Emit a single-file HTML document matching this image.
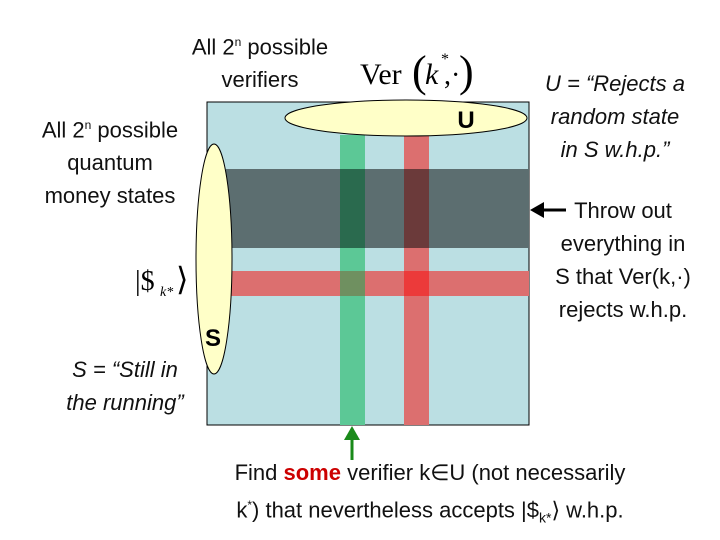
<!DOCTYPE html>
<html><head><meta charset="utf-8"><style>
body{margin:0;width:720px;height:540px;background:#fff;overflow:hidden;position:relative;font-family:"Liberation Sans",sans-serif}
.t{position:absolute;text-align:center;font-size:22px;line-height:33px;color:#111}
i{font-style:italic}
</style></head><body>
<svg width="720" height="540" style="position:absolute;left:0;top:0">
<rect x="207" y="102" width="322" height="323" fill="#bbdfe3" stroke="#000" stroke-width="1"/>
<rect x="226" y="169" width="303" height="79" fill="#5c6e70"/>
<rect x="231" y="271" width="298" height="25" fill="#dc6f6f"/>
<rect x="340" y="135" width="25" height="290" fill="#5cc896" opacity="1"/>
<rect x="340" y="169" width="25" height="79" fill="#2a6a4e"/>
<rect x="340" y="271" width="25" height="25" fill="#6f9060"/>
<rect x="404" y="135" width="25" height="290" fill="#dc6f6f"/>
<rect x="404" y="169" width="25" height="79" fill="#6b3a3a"/>
<rect x="404" y="271" width="25" height="25" fill="#ec3a3a"/>
<ellipse cx="406" cy="118" rx="121" ry="18" fill="#ffffc8" stroke="#000" stroke-width="1"/>
<ellipse cx="214" cy="259" rx="18" ry="115" fill="#ffffc8" stroke="#000" stroke-width="1"/>
<text x="466" y="128" font-size="24" font-weight="bold" text-anchor="middle" font-family="Liberation Sans">U</text>
<text x="213" y="346" font-size="24" font-weight="bold" text-anchor="middle" font-family="Liberation Sans">S</text>
<line x1="352" y1="460" x2="352" y2="436" stroke="#1a8a1a" stroke-width="3"/>
<polygon points="344,440 352,426 360,440" fill="#1a8a1a"/>
<line x1="566" y1="210" x2="540" y2="210" stroke="#000" stroke-width="3"/>
<polygon points="530,210 544,202 544,218" fill="#000"/>
<text x="360" y="84" font-size="30" font-family="Liberation Serif">Ver</text>
<text x="412" y="86" font-size="44" font-family="Liberation Serif" font-weight="300">(</text>
<text x="425" y="84" font-size="30" font-style="italic" font-family="Liberation Serif">k</text>
<text x="441" y="64" font-size="16" font-family="Liberation Serif">*</text>
<text x="444" y="84" font-size="28" font-family="Liberation Serif">,·</text>
<text x="459" y="86" font-size="44" font-family="Liberation Serif">)</text>
<text x="135" y="290" font-size="28" font-family="Liberation Serif">|$</text>
<text x="160" y="296" font-size="14" font-style="italic" font-family="Liberation Serif">k*</text>
<text x="176" y="290" font-size="32" font-family="Liberation Serif">⟩</text>
</svg>
<div class="t" style="left:170px;top:26px;width:180px">All 2<sup style="font-size:12px">n</sup> possible<br>verifiers</div>
<div class="t" style="left:20px;top:109px;width:180px">All 2<sup style="font-size:12px">n</sup> possible<br>quantum<br>money states</div>
<div class="t" style="left:530px;top:67px;width:170px"><i>U = “Rejects a<br>random state<br>in S w.h.p.”</i></div>
<div class="t" style="left:538px;top:194px;width:170px">Throw out<br>everything in<br>S that Ver(k,·)<br>rejects w.h.p.</div>
<div class="t" style="left:40px;top:353px;width:170px"><i>S = “Still in<br>the running”</i></div>
<div class="t" style="left:170px;top:456px;width:520px">Find <b style="color:#c00">some</b> verifier k∈U (not necessarily<br>k<sup style="font-size:12px">*</sup>) that nevertheless accepts |$<sub style="font-size:14px">k*</sub>⟩ w.h.p.</div>
</body></html>
